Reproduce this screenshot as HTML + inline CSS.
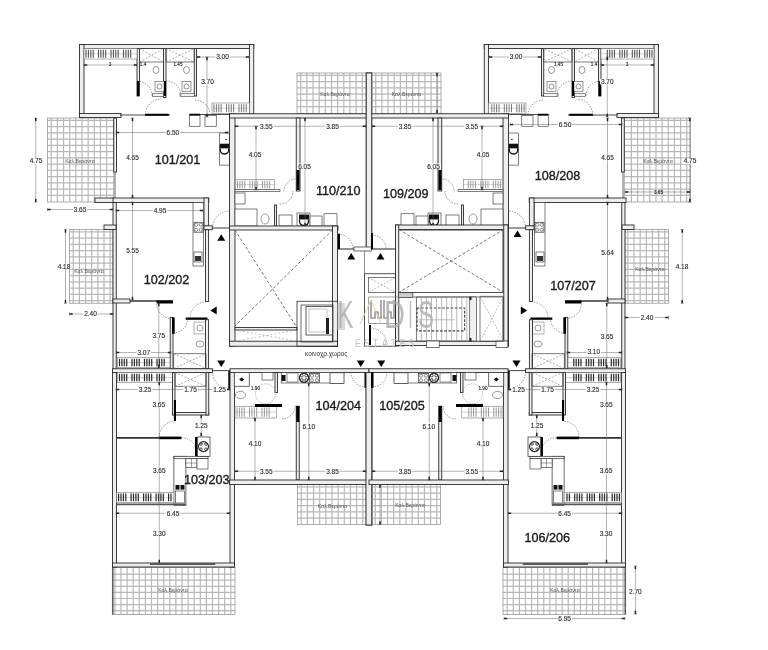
<!DOCTYPE html>
<html><head><meta charset="utf-8"><style>
html,body{margin:0;padding:0;background:#fff;width:768px;height:650px;overflow:hidden;}
svg{display:block;font-family:"Liberation Sans",sans-serif;will-change:transform;}
</style></head><body>
<svg width="768" height="650" viewBox="0 0 768 650">
<defs>
<pattern id="tile" width="6.2" height="6.2" patternUnits="userSpaceOnUse">
<rect x="0.9" y="0.9" width="4.6" height="4.6" fill="none" stroke="#b4b4b4" stroke-width="0.7"/>
</pattern>
<pattern id="hat" width="4" height="10" patternUnits="userSpaceOnUse">
<line x1="1.5" y1="0" x2="1.5" y2="10" stroke="#444" stroke-width="0.9"/>
</pattern>
</defs>
<rect width="768" height="650" fill="#fff"/>
<g id="half">
<path d="M51.25 118V202M57.4 118V202M63.55 118V202M69.7 118V202M75.85 118V202M82 118V202M88.15 118V202M94.3 118V202M100.45 118V202M106.6 118V202M47.5 120.3H113.75M47.5 126.55H113.75M47.5 132.8H113.75M47.5 139.05H113.75M47.5 145.3H113.75M47.5 151.55H113.75M47.5 157.8H113.75M47.5 164.05H113.75M47.5 170.3H113.75M47.5 176.55H113.75M47.5 182.8H113.75M47.5 189.05H113.75M47.5 195.3H113.75" stroke="#b8b8b8" stroke-width="1.2" fill="none"/>
<rect x="47.5" y="118" width="66.25" height="84" fill="none" stroke="#999" stroke-width="0.8"/>
<path d="M73.25 229.5V303.25M79.4 229.5V303.25M85.55 229.5V303.25M91.7 229.5V303.25M97.85 229.5V303.25M104 229.5V303.25M110.15 229.5V303.25M69.5 231.8H113M69.5 238.05H113M69.5 244.3H113M69.5 250.55H113M69.5 256.8H113M69.5 263.05H113M69.5 269.3H113M69.5 275.55H113M69.5 281.8H113M69.5 288.05H113M69.5 294.3H113M69.5 300.55H113" stroke="#b8b8b8" stroke-width="1.2" fill="none"/>
<rect x="69.5" y="229.5" width="43.5" height="73.75" fill="none" stroke="#999" stroke-width="0.8"/>
<path d="M114.9 567.6V614.5M121 567.6V614.5M127.1 567.6V614.5M133.2 567.6V614.5M139.3 567.6V614.5M145.4 567.6V614.5M151.5 567.6V614.5M157.6 567.6V614.5M163.7 567.6V614.5M169.8 567.6V614.5M175.9 567.6V614.5M182 567.6V614.5M188.1 567.6V614.5M194.2 567.6V614.5M200.3 567.6V614.5M206.4 567.6V614.5M212.5 567.6V614.5M218.6 567.6V614.5M224.7 567.6V614.5M230.8 567.6V614.5M112.3 574.1H235M112.3 580.2H235M112.3 586.3H235M112.3 592.4H235M112.3 598.5H235M112.3 604.6H235M112.3 610.7H235" stroke="#b8b8b8" stroke-width="1.2" fill="none"/>
<rect x="112.3" y="567.6" width="122.7" height="46.9" fill="none" stroke="#999" stroke-width="0.8"/>
<line x1="112.8" y1="567.6" x2="112.8" y2="614.5" stroke="#555" stroke-width="1.4"/>
<path d="M300.75 73V113.75M306.9 73V113.75M313.05 73V113.75M319.2 73V113.75M325.35 73V113.75M331.5 73V113.75M337.65 73V113.75M343.8 73V113.75M349.95 73V113.75M356.1 73V113.75M362.25 73V113.75M297 75.3H367.5M297 81.55H367.5M297 87.8H367.5M297 94.05H367.5M297 100.3H367.5M297 106.55H367.5" stroke="#b8b8b8" stroke-width="1.2" fill="none"/>
<rect x="297" y="73" width="70.5" height="40.75" fill="none" stroke="#999" stroke-width="0.8"/>
<path d="M301.25 484.5V524.5M307.4 484.5V524.5M313.55 484.5V524.5M319.7 484.5V524.5M325.85 484.5V524.5M332 484.5V524.5M338.15 484.5V524.5M344.3 484.5V524.5M350.45 484.5V524.5M356.6 484.5V524.5M362.75 484.5V524.5M297.5 486.8H367M297.5 493.05H367M297.5 499.3H367M297.5 505.55H367M297.5 511.8H367M297.5 518.05H367" stroke="#b8b8b8" stroke-width="1.2" fill="none"/>
<rect x="297.5" y="484.5" width="69.5" height="40" fill="none" stroke="#999" stroke-width="0.8"/>
<rect x="79.5" y="44.5" width="174.25" height="4" fill="#eeeeee" stroke="#2a2a2a" stroke-width="0.9"/>
<rect x="79.5" y="44.5" width="4.5" height="73" fill="#eeeeee" stroke="#2a2a2a" stroke-width="0.9"/>
<rect x="249.5" y="44.5" width="4.25" height="69.5" fill="#eeeeee" stroke="#2a2a2a" stroke-width="0.9"/>
<rect x="79.5" y="113.5" width="41.5" height="4" fill="#eeeeee" stroke="#2a2a2a" stroke-width="0.9"/>
<rect x="137" y="48.5" width="2.5" height="47.5" fill="#eeeeee" stroke="#2a2a2a" stroke-width="0.9"/>
<rect x="163.5" y="48.5" width="2.5" height="49" fill="#eeeeee" stroke="#2a2a2a" stroke-width="0.9"/>
<rect x="194.25" y="48.5" width="2.25" height="47.5" fill="#eeeeee" stroke="#2a2a2a" stroke-width="0.9"/>
<rect x="139.5" y="48.5" width="24" height="13.5" fill="none" stroke="#444" stroke-width="0.7"/>
<line x1="139.5" y1="48.5" x2="163.5" y2="62" stroke="#777" stroke-width="0.6" stroke-dasharray="2,1.5"/>
<line x1="139.5" y1="62" x2="163.5" y2="48.5" stroke="#777" stroke-width="0.6" stroke-dasharray="2,1.5"/>
<rect x="166" y="48.5" width="28.25" height="13.5" fill="none" stroke="#444" stroke-width="0.7"/>
<line x1="166" y1="48.5" x2="194.25" y2="62" stroke="#777" stroke-width="0.6" stroke-dasharray="2,1.5"/>
<line x1="166" y1="62" x2="194.25" y2="48.5" stroke="#777" stroke-width="0.6" stroke-dasharray="2,1.5"/>
<rect x="84" y="48.5" width="53" height="10.5" fill="#fff" stroke="#777" stroke-width="0.6"/>
<line x1="84" y1="53.75" x2="137" y2="53.75" stroke="#aaa" stroke-width="0.5"/>
<path d="M86 49.7V57.8M88.4 49.7V57.8M90.8 49.7V57.8M93.2 49.7V57.8M98.5 49.7V57.8M100.9 49.7V57.8M103.3 49.7V57.8M105.7 49.7V57.8M111 49.7V57.8M113.4 49.7V57.8M115.8 49.7V57.8M118.2 49.7V57.8M123.5 49.7V57.8M125.9 49.7V57.8M128.3 49.7V57.8M130.7 49.7V57.8" stroke="#555" stroke-width="1.1" fill="none"/>
<rect x="212" y="103" width="37.5" height="10.5" fill="#fff" stroke="#777" stroke-width="0.6"/>
<line x1="212" y1="108.25" x2="249.5" y2="108.25" stroke="#aaa" stroke-width="0.5"/>
<path d="M214 104.2V112.3M216.4 104.2V112.3M218.8 104.2V112.3M221.2 104.2V112.3M226.5 104.2V112.3M228.9 104.2V112.3M231.3 104.2V112.3M233.7 104.2V112.3M239 104.2V112.3M241.4 104.2V112.3M243.8 104.2V112.3M246.2 104.2V112.3" stroke="#777" stroke-width="1.0" fill="none"/>
<ellipse cx="156" cy="70" rx="3" ry="3.5" fill="none" stroke="#555" stroke-width="0.6"/>
<ellipse cx="186.5" cy="70" rx="3" ry="3.5" fill="none" stroke="#555" stroke-width="0.6"/>
<rect x="155" y="81.5" width="9" height="10" fill="#fff" stroke="#555" stroke-width="0.6"/>
<circle cx="159.5" cy="86.5" r="2.5" fill="none" stroke="#444" stroke-width="0.6"/>
<rect x="182" y="81.5" width="9" height="10" fill="#fff" stroke="#555" stroke-width="0.6"/>
<circle cx="186.5" cy="86.5" r="2.5" fill="none" stroke="#444" stroke-width="0.6"/>
<rect x="152.5" y="93.75" width="11" height="2.5" fill="#fff" stroke="#2a2a2a" stroke-width="0.6"/>
<rect x="180" y="93.75" width="14.25" height="2.5" fill="#fff" stroke="#2a2a2a" stroke-width="0.6"/>
<rect x="137" y="81" width="2" height="15" fill="#000"/>
<rect x="164" y="81" width="2" height="15" fill="#000"/>
<path d="M137 81 A15 15 0 0 1 152 96" fill="none" stroke="#555" stroke-width="0.6" stroke-dasharray="1.5,1.2"/>
<path d="M166 81 A15 15 0 0 1 181 96" fill="none" stroke="#555" stroke-width="0.6" stroke-dasharray="1.5,1.2"/>
<line x1="120" y1="115" x2="170" y2="115" stroke="#333" stroke-width="0.9"/>
<rect x="145" y="113.75" width="23.75" height="2" fill="#000"/>
<path d="M145.25 115 A16 16 0 0 1 161.25 99" fill="none" stroke="#555" stroke-width="0.6" stroke-dasharray="1.5,1.2"/>
<line x1="188.75" y1="114.5" x2="232.5" y2="114.5" stroke="#333" stroke-width="0.9"/>
<rect x="190" y="113.75" width="10" height="2" fill="#000"/>
<path d="M195 100 A15 15 0 0 1 210 115" fill="none" stroke="#555" stroke-width="0.6" stroke-dasharray="1.5,1.2"/>
<rect x="189.5" y="115.5" width="10.5" height="10.75" fill="#fff" stroke="#2a2a2a" stroke-width="0.6"/>
<rect x="205" y="115.5" width="11.25" height="10.75" fill="#fff" stroke="#2a2a2a" stroke-width="0.6"/>
<rect x="219.5" y="133" width="9.8" height="32.1" fill="#fff" stroke="#2a2a2a" stroke-width="0.6"/>
<circle cx="226.1" cy="139.5" r="0.8" fill="#333"/>
<rect x="219.8" y="143.7" width="9.4" height="4.64" fill="#111"/>
<path d="M220.3 148.33Q219.8 154 224.5 154Q229.2 154 228.7 148.33" fill="none" stroke="#111" stroke-width="1.3"/>
<rect x="113.75" y="118" width="2.75" height="54" fill="#eeeeee" stroke="#2a2a2a" stroke-width="0.9"/>
<line x1="115" y1="172" x2="115" y2="198" stroke="#444" stroke-width="0.8"/>
<rect x="112" y="198" width="96.75" height="4.5" fill="#eeeeee" stroke="#2a2a2a" stroke-width="0.9"/>
<rect x="204" y="198" width="4.6" height="28" fill="#eeeeee" stroke="#2a2a2a" stroke-width="0.9"/>
<rect x="204" y="225.8" width="8.3" height="3.9" fill="#eeeeee" stroke="#2a2a2a" stroke-width="0.9"/>
<rect x="229" y="211.4" width="2" height="18.2" fill="#000"/>
<path d="M212.5 228 A17 17 0 0 1 229.5 211" fill="none" stroke="#555" stroke-width="0.6" stroke-dasharray="1.5,1.2"/>
<line x1="212.3" y1="228" x2="229" y2="228" stroke="#222" stroke-width="0.9"/>
<rect x="229.5" y="113.75" width="5.5" height="232.5" fill="#eeeeee" stroke="#2a2a2a" stroke-width="0.9"/>
<rect x="113" y="202.5" width="3.25" height="167.5" fill="#eeeeee" stroke="#2a2a2a" stroke-width="0.9"/>
<rect x="104" y="225" width="12" height="4.5" fill="#eeeeee" stroke="#2a2a2a" stroke-width="0.9"/>
<rect x="193" y="202.5" width="10.4" height="63.5" fill="#fff" stroke="#2a2a2a" stroke-width="0.6"/>
<rect x="194" y="222.3" width="9" height="9.9" fill="#fff" stroke="#333" stroke-width="0.7"/>
<circle cx="196.25" cy="224.78" r="1.57" fill="none" stroke="#444" stroke-width="0.6"/>
<circle cx="196.25" cy="229.72" r="1.57" fill="none" stroke="#444" stroke-width="0.6"/>
<circle cx="200.75" cy="224.78" r="1.57" fill="none" stroke="#444" stroke-width="0.6"/>
<circle cx="200.75" cy="229.72" r="1.57" fill="none" stroke="#444" stroke-width="0.6"/>
<rect x="194" y="252" width="8" height="10" fill="#fff" stroke="#2a2a2a" stroke-width="0.6"/>
<rect x="195" y="256" width="6" height="5" fill="#333"/>
<rect x="113" y="299" width="17" height="4" fill="#eeeeee" stroke="#2a2a2a" stroke-width="0.9"/>
<line x1="130" y1="301" x2="173" y2="301" stroke="#333" stroke-width="1.4"/>
<rect x="156.5" y="300.5" width="16.5" height="3" fill="#000"/>
<path d="M172 318.5 A15.5 15.5 0 0 1 156.5 303" fill="none" stroke="#555" stroke-width="0.6" stroke-dasharray="1.5,1.2"/>
<rect x="185.7" y="317.5" width="21.8" height="2.3" fill="#000"/>
<path d="M187.7 318 A15 15 0 0 1 172.7 333" fill="none" stroke="#555" stroke-width="0.6" stroke-dasharray="1.5,1.2"/>
<circle cx="200" cy="328" r="3" fill="none" stroke="#555" stroke-width="0.6"/>
<rect x="194" y="322" width="12" height="12" fill="none" stroke="#666" stroke-width="0.5"/>
<ellipse cx="200" cy="344" rx="4" ry="3" fill="none" stroke="#555" stroke-width="0.6"/>
<rect x="205.5" y="229.7" width="3.1" height="71.8" fill="#eeeeee" stroke="#2a2a2a" stroke-width="0.9"/>
<rect x="205.5" y="319.7" width="3.1" height="49.05" fill="#eeeeee" stroke="#2a2a2a" stroke-width="0.9"/>
<path d="M190 318 A16 16 0 0 1 206 302" fill="none" stroke="#555" stroke-width="0.6" stroke-dasharray="1.5,1.2"/>
<rect x="170.2" y="317.4" width="2.8" height="51.6" fill="#eeeeee" stroke="#2a2a2a" stroke-width="0.9"/>
<rect x="173.75" y="353.75" width="32.25" height="14.75" fill="none" stroke="#444" stroke-width="0.7"/>
<line x1="173.75" y1="353.75" x2="206" y2="368.5" stroke="#777" stroke-width="0.6" stroke-dasharray="2,1.5"/>
<line x1="173.75" y1="368.5" x2="206" y2="353.75" stroke="#777" stroke-width="0.6" stroke-dasharray="2,1.5"/>
<rect x="172" y="317.4" width="2.7" height="16.4" fill="#000"/>
<rect x="117.5" y="357.5" width="52.5" height="10" fill="#fff" stroke="#777" stroke-width="0.6"/>
<line x1="117.5" y1="362.5" x2="170" y2="362.5" stroke="#aaa" stroke-width="0.5"/>
<path d="M119.5 358.7V366.3M121.9 358.7V366.3M124.3 358.7V366.3M126.7 358.7V366.3M132 358.7V366.3M134.4 358.7V366.3M136.8 358.7V366.3M139.2 358.7V366.3M144.5 358.7V366.3M146.9 358.7V366.3M149.3 358.7V366.3M151.7 358.7V366.3M157 358.7V366.3M159.4 358.7V366.3M161.8 358.7V366.3M164.2 358.7V366.3" stroke="#2a2a2a" stroke-width="1.2" fill="none"/>
<rect x="112.5" y="368.75" width="100" height="3.75" fill="#eeeeee" stroke="#2a2a2a" stroke-width="0.9"/>
<line x1="212.5" y1="370.6" x2="230" y2="370.6" stroke="#333" stroke-width="0.9"/>
<rect x="228.3" y="371" width="1.9" height="18.4" fill="#000"/>
<path d="M229 388.5 A16.5 16.5 0 0 1 212.5 372" fill="none" stroke="#555" stroke-width="0.6" stroke-dasharray="1.5,1.2"/>
<rect x="117.5" y="372.5" width="55" height="10" fill="#fff" stroke="#777" stroke-width="0.6"/>
<line x1="117.5" y1="377.5" x2="172.5" y2="377.5" stroke="#aaa" stroke-width="0.5"/>
<path d="M119.5 373.7V381.3M121.9 373.7V381.3M124.3 373.7V381.3M126.7 373.7V381.3M132 373.7V381.3M134.4 373.7V381.3M136.8 373.7V381.3M139.2 373.7V381.3M144.5 373.7V381.3M146.9 373.7V381.3M149.3 373.7V381.3M151.7 373.7V381.3M157 373.7V381.3M159.4 373.7V381.3M161.8 373.7V381.3M164.2 373.7V381.3" stroke="#2a2a2a" stroke-width="1.2" fill="none"/>
<rect x="172.5" y="372.5" width="2.5" height="42.5" fill="#eeeeee" stroke="#2a2a2a" stroke-width="0.9"/>
<rect x="175" y="412.5" width="33.75" height="2.5" fill="#eeeeee" stroke="#2a2a2a" stroke-width="0.9"/>
<rect x="206" y="372.5" width="2.75" height="42.5" fill="#eeeeee" stroke="#2a2a2a" stroke-width="0.9"/>
<rect x="175" y="372.5" width="31" height="13.75" fill="none" stroke="#444" stroke-width="0.7"/>
<line x1="175" y1="372.5" x2="206" y2="386.25" stroke="#777" stroke-width="0.6" stroke-dasharray="2,1.5"/>
<line x1="175" y1="386.25" x2="206" y2="372.5" stroke="#777" stroke-width="0.6" stroke-dasharray="2,1.5"/>
<rect x="112.5" y="372.5" width="4" height="194.5" fill="#eeeeee" stroke="#2a2a2a" stroke-width="0.9"/>
<line x1="116.6" y1="437.9" x2="181.3" y2="437.9" stroke="#333" stroke-width="1.6"/>
<rect x="159" y="436.6" width="22.3" height="2.6" fill="#000"/>
<path d="M159.1 437 A15.7 15.7 0 0 1 174.8 421.3" fill="none" stroke="#555" stroke-width="0.6" stroke-dasharray="1.5,1.2"/>
<rect x="173.9" y="400" width="2.1" height="21" fill="#000"/>
<path d="M181.3 437.6 A16 16 0 0 1 197.3 453.6" fill="none" stroke="#555" stroke-width="0.6" stroke-dasharray="1.5,1.2"/>
<rect x="173.9" y="456.3" width="12" height="49" fill="#fff" stroke="#2a2a2a" stroke-width="0.7"/>
<rect x="173.9" y="456.3" width="34.1" height="2.4" fill="#fff" stroke="#2a2a2a" stroke-width="0.7"/>
<rect x="185.9" y="458.7" width="11.1" height="8.7" fill="#fff" stroke="#2a2a2a" stroke-width="0.6"/>
<path d="M186 463H197M191.5 459V467.4" stroke="#666" stroke-width="0.6"/>
<rect x="197" y="458.7" width="11" height="10.3" fill="#fff" stroke="#2a2a2a" stroke-width="0.6"/>
<rect x="175.5" y="485" width="4" height="4.6" fill="#111"/>
<rect x="180.5" y="485" width="4" height="4.6" fill="#111"/>
<rect x="175.5" y="491" width="9" height="12" fill="#fff" stroke="#2a2a2a" stroke-width="0.6"/>
<rect x="197" y="437" width="13" height="19.3" fill="#fff" stroke="#2a2a2a" stroke-width="0.7"/>
<rect x="195" y="437" width="2.5" height="19" fill="#000"/>
<circle cx="203.5" cy="446.6" r="5" fill="none" stroke="#222" stroke-width="1.1"/>
<circle cx="201" cy="444" r="1.3" fill="none" stroke="#222" stroke-width="0.8"/>
<circle cx="206" cy="444" r="1.3" fill="none" stroke="#222" stroke-width="0.8"/>
<circle cx="201" cy="449.2" r="1.3" fill="none" stroke="#222" stroke-width="0.8"/>
<circle cx="206" cy="449.2" r="1.3" fill="none" stroke="#222" stroke-width="0.8"/>
<rect x="116.6" y="492.4" width="57.3" height="10.1" fill="#fff" stroke="#777" stroke-width="0.6"/>
<line x1="116.6" y1="497.45" x2="173.9" y2="497.45" stroke="#aaa" stroke-width="0.5"/>
<path d="M118.6 493.6V501.3M121 493.6V501.3M123.4 493.6V501.3M125.8 493.6V501.3M131.1 493.6V501.3M133.5 493.6V501.3M135.9 493.6V501.3M138.3 493.6V501.3M143.6 493.6V501.3M146 493.6V501.3M148.4 493.6V501.3M150.8 493.6V501.3M156.1 493.6V501.3M158.5 493.6V501.3M160.9 493.6V501.3M163.3 493.6V501.3M168.6 493.6V501.3M171 493.6V501.3" stroke="#2a2a2a" stroke-width="1.2" fill="none"/>
<line x1="116.6" y1="504.4" x2="185.9" y2="504.4" stroke="#555" stroke-width="1.6"/>
<rect x="230" y="370" width="4.5" height="197" fill="#eeeeee" stroke="#2a2a2a" stroke-width="0.9"/>
<rect x="112.5" y="563" width="122" height="4" fill="#eeeeee" stroke="#2a2a2a" stroke-width="0.9"/>
<line x1="150" y1="564.2" x2="215.2" y2="564.2" stroke="#222" stroke-width="1.2"/>
<rect x="229.5" y="113.75" width="139.5" height="4.25" fill="#eeeeee" stroke="#2a2a2a" stroke-width="0.9"/>
<rect x="366.25" y="73" width="5.5" height="176" fill="#eeeeee" stroke="#2a2a2a" stroke-width="0.9"/>
<rect x="296.25" y="118" width="3.75" height="73" fill="#eeeeee" stroke="#2a2a2a" stroke-width="0.9"/>
<rect x="296.5" y="170" width="3" height="20" fill="#000"/>
<rect x="235.5" y="179.5" width="39" height="10" fill="#fff" stroke="#777" stroke-width="0.6"/>
<line x1="235.5" y1="184.5" x2="274.5" y2="184.5" stroke="#aaa" stroke-width="0.5"/>
<path d="M237.5 180.7V188.3M239.9 180.7V188.3M242.3 180.7V188.3M244.7 180.7V188.3M250 180.7V188.3M252.4 180.7V188.3M254.8 180.7V188.3M257.2 180.7V188.3M262.5 180.7V188.3M264.9 180.7V188.3M267.3 180.7V188.3M269.7 180.7V188.3" stroke="#999" stroke-width="1.0" fill="none"/>
<rect x="235" y="189.5" width="45" height="2" fill="#fff" stroke="#2a2a2a" stroke-width="0.6"/>
<path d="M293 191 A13 13 0 0 1 280 204" fill="none" stroke="#555" stroke-width="0.6" stroke-dasharray="1.5,1.2"/>
<path d="M284 191 A12 12 0 0 1 296 179" fill="none" stroke="#555" stroke-width="0.6" stroke-dasharray="1.5,1.2"/>
<rect x="235" y="193" width="10" height="11" fill="#fff" stroke="#2a2a2a" stroke-width="0.6"/>
<rect x="235" y="209" width="22" height="17" fill="#fff" stroke="#2a2a2a" stroke-width="0.6"/>
<rect x="274.5" y="205" width="2" height="21" fill="#eeeeee" stroke="#2a2a2a" stroke-width="0.9"/>
<rect x="279" y="215" width="13" height="11" fill="#fff" stroke="#2a2a2a" stroke-width="0.6"/>
<rect x="297" y="213" width="13" height="13" fill="#fff" stroke="#2a2a2a" stroke-width="0.6"/>
<rect x="299" y="214.5" width="10" height="4.95" fill="#111"/>
<path d="M299.5 219.45Q299 225.5 304 225.5Q309 225.5 308.5 219.45" fill="none" stroke="#111" stroke-width="1.3"/>
<rect x="310" y="216" width="12" height="10" fill="#fff" stroke="#2a2a2a" stroke-width="0.6"/>
<rect x="324" y="213.75" width="13" height="12.25" fill="#fff" stroke="#2a2a2a" stroke-width="0.6"/>
<ellipse cx="265" cy="219" rx="4" ry="5" fill="none" stroke="#555" stroke-width="0.6"/>
<rect x="229.5" y="226" width="108.5" height="4" fill="#eeeeee" stroke="#2a2a2a" stroke-width="0.9"/>
<rect x="230" y="368.75" width="139" height="3.75" fill="#eeeeee" stroke="#2a2a2a" stroke-width="0.9"/>
<rect x="366.25" y="372.5" width="5.75" height="152.5" fill="#eeeeee" stroke="#2a2a2a" stroke-width="0.9"/>
<rect x="275" y="372.5" width="2.5" height="20" fill="#eeeeee" stroke="#2a2a2a" stroke-width="0.9"/>
<rect x="234.25" y="372.5" width="15" height="13.75" fill="#fff" stroke="#2a2a2a" stroke-width="0.7"/>
<path d="M241.7 377.3L244.2 379.4L241.7 381.5L239.2 379.4Z" fill="#111"/>
<ellipse cx="240.5" cy="395" rx="5" ry="3.6" fill="none" stroke="#555" stroke-width="0.6"/>
<rect x="262" y="372.5" width="11" height="7.5" fill="#fff" stroke="#2a2a2a" stroke-width="0.6"/>
<rect x="235" y="406.25" width="41.25" height="11.75" fill="#fff" stroke="#777" stroke-width="0.6"/>
<line x1="235" y1="412.12" x2="276.25" y2="412.12" stroke="#aaa" stroke-width="0.5"/>
<path d="M237 407.45V416.8M239.4 407.45V416.8M241.8 407.45V416.8M244.2 407.45V416.8M249.5 407.45V416.8M251.9 407.45V416.8M254.3 407.45V416.8M256.7 407.45V416.8M262 407.45V416.8M264.4 407.45V416.8M266.8 407.45V416.8M269.2 407.45V416.8" stroke="#999" stroke-width="1.0" fill="none"/>
<rect x="255" y="404" width="27" height="3" fill="#000"/>
<rect x="296.25" y="406.25" width="3" height="73.75" fill="#eeeeee" stroke="#2a2a2a" stroke-width="0.9"/>
<rect x="296.25" y="406" width="3" height="16" fill="#000"/>
<rect x="281.25" y="372.5" width="62.5" height="10.5" fill="#fff" stroke="#2a2a2a" stroke-width="0.6"/>
<rect x="281.5" y="375" width="4" height="6" fill="#111"/>
<rect x="287" y="373" width="11" height="9" fill="#fff" stroke="#2a2a2a" stroke-width="0.5"/>
<circle cx="304" cy="377.8" r="4.6" fill="none" stroke="#1a1a1a" stroke-width="1.2"/>
<circle cx="301.79" cy="375.59" r="1.38" fill="none" stroke="#1a1a1a" stroke-width="0.8"/>
<circle cx="306.21" cy="375.59" r="1.38" fill="none" stroke="#1a1a1a" stroke-width="0.8"/>
<circle cx="301.79" cy="380.01" r="1.38" fill="none" stroke="#1a1a1a" stroke-width="0.8"/>
<circle cx="306.21" cy="380.01" r="1.38" fill="none" stroke="#1a1a1a" stroke-width="0.8"/>
<rect x="309.5" y="373.5" width="10" height="9" fill="#fff" stroke="#333" stroke-width="0.7"/>
<circle cx="312" cy="375.75" r="1.57" fill="none" stroke="#444" stroke-width="0.6"/>
<circle cx="312" cy="380.25" r="1.57" fill="none" stroke="#444" stroke-width="0.6"/>
<circle cx="317" cy="375.75" r="1.57" fill="none" stroke="#444" stroke-width="0.6"/>
<circle cx="317" cy="380.25" r="1.57" fill="none" stroke="#444" stroke-width="0.6"/>
<rect x="330" y="372.8" width="14" height="10.7" fill="#fff" stroke="#2a2a2a" stroke-width="0.7"/>
<rect x="364.5" y="372.5" width="2.5" height="15.5" fill="#000"/>
<path d="M295 406 A13 13 0 0 1 282 419" fill="none" stroke="#555" stroke-width="0.6" stroke-dasharray="1.5,1.2"/>
<rect x="229.5" y="480" width="139.5" height="4.5" fill="#eeeeee" stroke="#2a2a2a" stroke-width="0.9"/>
<circle cx="265.5" cy="393.75" r="10" fill="none" stroke="#777" stroke-width="0.5" stroke-dasharray="1.5,1"/>
<path d="M366 387 A15 15 0 0 1 351 372" fill="none" stroke="#555" stroke-width="0.6" stroke-dasharray="1.5,1.2"/>
</g>
<use href="#half" transform="translate(738,0) scale(-1,1)"/>
<line x1="84" y1="65" x2="137" y2="65" stroke="#666" stroke-width="0.5"/>
<line x1="84" y1="65" x2="87.2" y2="65" stroke="#222" stroke-width="1.5"/>
<line x1="133.8" y1="65" x2="137" y2="65" stroke="#222" stroke-width="1.5"/>
<line x1="84" y1="63.4" x2="84" y2="66.6" stroke="#555" stroke-width="0.5"/>
<line x1="137" y1="63.4" x2="137" y2="66.6" stroke="#555" stroke-width="0.5"/>
<line x1="654" y1="65" x2="601" y2="65" stroke="#666" stroke-width="0.5"/>
<line x1="601" y1="65" x2="604.2" y2="65" stroke="#222" stroke-width="1.5"/>
<line x1="650.8" y1="65" x2="654" y2="65" stroke="#222" stroke-width="1.5"/>
<line x1="601" y1="63.4" x2="601" y2="66.6" stroke="#555" stroke-width="0.5"/>
<line x1="654" y1="63.4" x2="654" y2="66.6" stroke="#555" stroke-width="0.5"/>
<line x1="197" y1="57" x2="249" y2="57" stroke="#666" stroke-width="0.5"/>
<line x1="197" y1="57" x2="200.2" y2="57" stroke="#222" stroke-width="1.5"/>
<line x1="245.8" y1="57" x2="249" y2="57" stroke="#222" stroke-width="1.5"/>
<line x1="197" y1="55.4" x2="197" y2="58.6" stroke="#555" stroke-width="0.5"/>
<line x1="249" y1="55.4" x2="249" y2="58.6" stroke="#555" stroke-width="0.5"/>
<line x1="541" y1="57" x2="489" y2="57" stroke="#666" stroke-width="0.5"/>
<line x1="489" y1="57" x2="492.2" y2="57" stroke="#222" stroke-width="1.5"/>
<line x1="537.8" y1="57" x2="541" y2="57" stroke="#222" stroke-width="1.5"/>
<line x1="489" y1="55.4" x2="489" y2="58.6" stroke="#555" stroke-width="0.5"/>
<line x1="541" y1="55.4" x2="541" y2="58.6" stroke="#555" stroke-width="0.5"/>
<line x1="207" y1="57" x2="207" y2="117" stroke="#666" stroke-width="0.5"/>
<line x1="207" y1="57" x2="207" y2="60.2" stroke="#222" stroke-width="1.5"/>
<line x1="207" y1="113.8" x2="207" y2="117" stroke="#222" stroke-width="1.5"/>
<line x1="205.4" y1="57" x2="208.6" y2="57" stroke="#555" stroke-width="0.5"/>
<line x1="205.4" y1="117" x2="208.6" y2="117" stroke="#555" stroke-width="0.5"/>
<line x1="607.25" y1="57" x2="607.25" y2="117" stroke="#666" stroke-width="0.5"/>
<line x1="607.25" y1="57" x2="607.25" y2="60.2" stroke="#222" stroke-width="1.5"/>
<line x1="607.25" y1="113.8" x2="607.25" y2="117" stroke="#222" stroke-width="1.5"/>
<line x1="605.65" y1="57" x2="608.85" y2="57" stroke="#555" stroke-width="0.5"/>
<line x1="605.65" y1="117" x2="608.85" y2="117" stroke="#555" stroke-width="0.5"/>
<line x1="116" y1="132.5" x2="228" y2="132.5" stroke="#666" stroke-width="0.5"/>
<line x1="116" y1="132.5" x2="119.2" y2="132.5" stroke="#222" stroke-width="1.5"/>
<line x1="224.8" y1="132.5" x2="228" y2="132.5" stroke="#222" stroke-width="1.5"/>
<line x1="116" y1="130.9" x2="116" y2="134.1" stroke="#555" stroke-width="0.5"/>
<line x1="228" y1="130.9" x2="228" y2="134.1" stroke="#555" stroke-width="0.5"/>
<line x1="510" y1="124.5" x2="622" y2="124.5" stroke="#666" stroke-width="0.5"/>
<line x1="510" y1="124.5" x2="513.2" y2="124.5" stroke="#222" stroke-width="1.5"/>
<line x1="618.8" y1="124.5" x2="622" y2="124.5" stroke="#222" stroke-width="1.5"/>
<line x1="510" y1="122.9" x2="510" y2="126.1" stroke="#555" stroke-width="0.5"/>
<line x1="622" y1="122.9" x2="622" y2="126.1" stroke="#555" stroke-width="0.5"/>
<line x1="132.5" y1="118" x2="132.5" y2="198" stroke="#666" stroke-width="0.5"/>
<line x1="132.5" y1="118" x2="132.5" y2="121.2" stroke="#222" stroke-width="1.5"/>
<line x1="132.5" y1="194.8" x2="132.5" y2="198" stroke="#222" stroke-width="1.5"/>
<line x1="130.9" y1="118" x2="134.1" y2="118" stroke="#555" stroke-width="0.5"/>
<line x1="130.9" y1="198" x2="134.1" y2="198" stroke="#555" stroke-width="0.5"/>
<line x1="607.5" y1="118" x2="607.5" y2="198" stroke="#666" stroke-width="0.5"/>
<line x1="607.5" y1="118" x2="607.5" y2="121.2" stroke="#222" stroke-width="1.5"/>
<line x1="607.5" y1="194.8" x2="607.5" y2="198" stroke="#222" stroke-width="1.5"/>
<line x1="605.9" y1="118" x2="609.1" y2="118" stroke="#555" stroke-width="0.5"/>
<line x1="605.9" y1="198" x2="609.1" y2="198" stroke="#555" stroke-width="0.5"/>
<line x1="35.75" y1="118" x2="35.75" y2="202" stroke="#666" stroke-width="0.5"/>
<line x1="35.75" y1="118" x2="35.75" y2="121.2" stroke="#222" stroke-width="1.5"/>
<line x1="35.75" y1="198.8" x2="35.75" y2="202" stroke="#222" stroke-width="1.5"/>
<line x1="34.15" y1="118" x2="37.35" y2="118" stroke="#555" stroke-width="0.5"/>
<line x1="34.15" y1="202" x2="37.35" y2="202" stroke="#555" stroke-width="0.5"/>
<line x1="689.75" y1="118" x2="689.75" y2="202" stroke="#666" stroke-width="0.5"/>
<line x1="689.75" y1="118" x2="689.75" y2="121.2" stroke="#222" stroke-width="1.5"/>
<line x1="689.75" y1="198.8" x2="689.75" y2="202" stroke="#222" stroke-width="1.5"/>
<line x1="688.15" y1="118" x2="691.35" y2="118" stroke="#555" stroke-width="0.5"/>
<line x1="688.15" y1="202" x2="691.35" y2="202" stroke="#555" stroke-width="0.5"/>
<line x1="47.5" y1="209.5" x2="113" y2="209.5" stroke="#666" stroke-width="0.5"/>
<line x1="47.5" y1="209.5" x2="50.7" y2="209.5" stroke="#222" stroke-width="1.5"/>
<line x1="109.8" y1="209.5" x2="113" y2="209.5" stroke="#222" stroke-width="1.5"/>
<line x1="47.5" y1="207.9" x2="47.5" y2="211.1" stroke="#555" stroke-width="0.5"/>
<line x1="113" y1="207.9" x2="113" y2="211.1" stroke="#555" stroke-width="0.5"/>
<line x1="625" y1="192" x2="690" y2="192" stroke="#666" stroke-width="0.5"/>
<line x1="625" y1="192" x2="628.2" y2="192" stroke="#222" stroke-width="1.5"/>
<line x1="686.8" y1="192" x2="690" y2="192" stroke="#222" stroke-width="1.5"/>
<line x1="625" y1="190.4" x2="625" y2="193.6" stroke="#555" stroke-width="0.5"/>
<line x1="690" y1="190.4" x2="690" y2="193.6" stroke="#555" stroke-width="0.5"/>
<line x1="116" y1="210.5" x2="203" y2="210.5" stroke="#666" stroke-width="0.5"/>
<line x1="116" y1="210.5" x2="119.2" y2="210.5" stroke="#222" stroke-width="1.5"/>
<line x1="199.8" y1="210.5" x2="203" y2="210.5" stroke="#222" stroke-width="1.5"/>
<line x1="116" y1="208.9" x2="116" y2="212.1" stroke="#555" stroke-width="0.5"/>
<line x1="203" y1="208.9" x2="203" y2="212.1" stroke="#555" stroke-width="0.5"/>
<line x1="132.5" y1="202" x2="132.5" y2="300" stroke="#666" stroke-width="0.5"/>
<line x1="132.5" y1="202" x2="132.5" y2="205.2" stroke="#222" stroke-width="1.5"/>
<line x1="132.5" y1="296.8" x2="132.5" y2="300" stroke="#222" stroke-width="1.5"/>
<line x1="130.9" y1="202" x2="134.1" y2="202" stroke="#555" stroke-width="0.5"/>
<line x1="130.9" y1="300" x2="134.1" y2="300" stroke="#555" stroke-width="0.5"/>
<line x1="607.5" y1="202" x2="607.5" y2="300" stroke="#666" stroke-width="0.5"/>
<line x1="607.5" y1="202" x2="607.5" y2="205.2" stroke="#222" stroke-width="1.5"/>
<line x1="607.5" y1="296.8" x2="607.5" y2="300" stroke="#222" stroke-width="1.5"/>
<line x1="605.9" y1="202" x2="609.1" y2="202" stroke="#555" stroke-width="0.5"/>
<line x1="605.9" y1="300" x2="609.1" y2="300" stroke="#555" stroke-width="0.5"/>
<line x1="65.5" y1="229.5" x2="65.5" y2="303.25" stroke="#666" stroke-width="0.5"/>
<line x1="65.5" y1="229.5" x2="65.5" y2="232.7" stroke="#222" stroke-width="1.5"/>
<line x1="65.5" y1="300.05" x2="65.5" y2="303.25" stroke="#222" stroke-width="1.5"/>
<line x1="63.9" y1="229.5" x2="67.1" y2="229.5" stroke="#555" stroke-width="0.5"/>
<line x1="63.9" y1="303.25" x2="67.1" y2="303.25" stroke="#555" stroke-width="0.5"/>
<line x1="682.25" y1="229.5" x2="682.25" y2="303.25" stroke="#666" stroke-width="0.5"/>
<line x1="682.25" y1="229.5" x2="682.25" y2="232.7" stroke="#222" stroke-width="1.5"/>
<line x1="682.25" y1="300.05" x2="682.25" y2="303.25" stroke="#222" stroke-width="1.5"/>
<line x1="680.65" y1="229.5" x2="683.85" y2="229.5" stroke="#555" stroke-width="0.5"/>
<line x1="680.65" y1="303.25" x2="683.85" y2="303.25" stroke="#555" stroke-width="0.5"/>
<line x1="69.5" y1="314" x2="113" y2="314" stroke="#666" stroke-width="0.5"/>
<line x1="69.5" y1="314" x2="72.7" y2="314" stroke="#222" stroke-width="1.5"/>
<line x1="109.8" y1="314" x2="113" y2="314" stroke="#222" stroke-width="1.5"/>
<line x1="69.5" y1="312.4" x2="69.5" y2="315.6" stroke="#555" stroke-width="0.5"/>
<line x1="113" y1="312.4" x2="113" y2="315.6" stroke="#555" stroke-width="0.5"/>
<line x1="625" y1="317.5" x2="668.5" y2="317.5" stroke="#666" stroke-width="0.5"/>
<line x1="625" y1="317.5" x2="628.2" y2="317.5" stroke="#222" stroke-width="1.5"/>
<line x1="665.3" y1="317.5" x2="668.5" y2="317.5" stroke="#222" stroke-width="1.5"/>
<line x1="625" y1="315.9" x2="625" y2="319.1" stroke="#555" stroke-width="0.5"/>
<line x1="668.5" y1="315.9" x2="668.5" y2="319.1" stroke="#555" stroke-width="0.5"/>
<line x1="158.75" y1="303" x2="158.75" y2="368" stroke="#666" stroke-width="0.5"/>
<line x1="158.75" y1="303" x2="158.75" y2="306.2" stroke="#222" stroke-width="1.5"/>
<line x1="158.75" y1="364.8" x2="158.75" y2="368" stroke="#222" stroke-width="1.5"/>
<line x1="157.15" y1="303" x2="160.35" y2="303" stroke="#555" stroke-width="0.5"/>
<line x1="157.15" y1="368" x2="160.35" y2="368" stroke="#555" stroke-width="0.5"/>
<line x1="606.75" y1="303" x2="606.75" y2="368" stroke="#666" stroke-width="0.5"/>
<line x1="606.75" y1="303" x2="606.75" y2="306.2" stroke="#222" stroke-width="1.5"/>
<line x1="606.75" y1="364.8" x2="606.75" y2="368" stroke="#222" stroke-width="1.5"/>
<line x1="605.15" y1="303" x2="608.35" y2="303" stroke="#555" stroke-width="0.5"/>
<line x1="605.15" y1="368" x2="608.35" y2="368" stroke="#555" stroke-width="0.5"/>
<line x1="116" y1="352.5" x2="171" y2="352.5" stroke="#666" stroke-width="0.5"/>
<line x1="116" y1="352.5" x2="119.2" y2="352.5" stroke="#222" stroke-width="1.5"/>
<line x1="167.8" y1="352.5" x2="171" y2="352.5" stroke="#222" stroke-width="1.5"/>
<line x1="116" y1="350.9" x2="116" y2="354.1" stroke="#555" stroke-width="0.5"/>
<line x1="171" y1="350.9" x2="171" y2="354.1" stroke="#555" stroke-width="0.5"/>
<line x1="622" y1="352.5" x2="567" y2="352.5" stroke="#666" stroke-width="0.5"/>
<line x1="567" y1="352.5" x2="570.2" y2="352.5" stroke="#222" stroke-width="1.5"/>
<line x1="618.8" y1="352.5" x2="622" y2="352.5" stroke="#222" stroke-width="1.5"/>
<line x1="567" y1="350.9" x2="567" y2="354.1" stroke="#555" stroke-width="0.5"/>
<line x1="622" y1="350.9" x2="622" y2="354.1" stroke="#555" stroke-width="0.5"/>
<line x1="159.25" y1="382" x2="159.25" y2="563" stroke="#666" stroke-width="0.5"/>
<line x1="159.25" y1="382" x2="159.25" y2="385.2" stroke="#222" stroke-width="1.5"/>
<line x1="159.25" y1="559.8" x2="159.25" y2="563" stroke="#222" stroke-width="1.5"/>
<line x1="157.65" y1="382" x2="160.85" y2="382" stroke="#555" stroke-width="0.5"/>
<line x1="157.65" y1="563" x2="160.85" y2="563" stroke="#555" stroke-width="0.5"/>
<line x1="606.5" y1="382" x2="606.5" y2="563" stroke="#666" stroke-width="0.5"/>
<line x1="606.5" y1="382" x2="606.5" y2="385.2" stroke="#222" stroke-width="1.5"/>
<line x1="606.5" y1="559.8" x2="606.5" y2="563" stroke="#222" stroke-width="1.5"/>
<line x1="604.9" y1="382" x2="608.1" y2="382" stroke="#555" stroke-width="0.5"/>
<line x1="604.9" y1="563" x2="608.1" y2="563" stroke="#555" stroke-width="0.5"/>
<line x1="116" y1="389.5" x2="230" y2="389.5" stroke="#666" stroke-width="0.5"/>
<line x1="116" y1="389.5" x2="119.2" y2="389.5" stroke="#222" stroke-width="1.5"/>
<line x1="226.8" y1="389.5" x2="230" y2="389.5" stroke="#222" stroke-width="1.5"/>
<line x1="116" y1="387.9" x2="116" y2="391.1" stroke="#555" stroke-width="0.5"/>
<line x1="230" y1="387.9" x2="230" y2="391.1" stroke="#555" stroke-width="0.5"/>
<line x1="622" y1="389.5" x2="508" y2="389.5" stroke="#666" stroke-width="0.5"/>
<line x1="508" y1="389.5" x2="511.2" y2="389.5" stroke="#222" stroke-width="1.5"/>
<line x1="618.8" y1="389.5" x2="622" y2="389.5" stroke="#222" stroke-width="1.5"/>
<line x1="508" y1="387.9" x2="508" y2="391.1" stroke="#555" stroke-width="0.5"/>
<line x1="622" y1="387.9" x2="622" y2="391.1" stroke="#555" stroke-width="0.5"/>
<line x1="201.25" y1="415" x2="201.25" y2="436" stroke="#666" stroke-width="0.5"/>
<line x1="201.25" y1="415" x2="201.25" y2="418.2" stroke="#222" stroke-width="1.5"/>
<line x1="201.25" y1="432.8" x2="201.25" y2="436" stroke="#222" stroke-width="1.5"/>
<line x1="199.65" y1="415" x2="202.85" y2="415" stroke="#555" stroke-width="0.5"/>
<line x1="199.65" y1="436" x2="202.85" y2="436" stroke="#555" stroke-width="0.5"/>
<line x1="536.75" y1="415" x2="536.75" y2="436" stroke="#666" stroke-width="0.5"/>
<line x1="536.75" y1="415" x2="536.75" y2="418.2" stroke="#222" stroke-width="1.5"/>
<line x1="536.75" y1="432.8" x2="536.75" y2="436" stroke="#222" stroke-width="1.5"/>
<line x1="535.15" y1="415" x2="538.35" y2="415" stroke="#555" stroke-width="0.5"/>
<line x1="535.15" y1="436" x2="538.35" y2="436" stroke="#555" stroke-width="0.5"/>
<line x1="116" y1="513.25" x2="230" y2="513.25" stroke="#666" stroke-width="0.5"/>
<line x1="116" y1="513.25" x2="119.2" y2="513.25" stroke="#222" stroke-width="1.5"/>
<line x1="226.8" y1="513.25" x2="230" y2="513.25" stroke="#222" stroke-width="1.5"/>
<line x1="116" y1="511.65" x2="116" y2="514.85" stroke="#555" stroke-width="0.5"/>
<line x1="230" y1="511.65" x2="230" y2="514.85" stroke="#555" stroke-width="0.5"/>
<line x1="622" y1="513.25" x2="508" y2="513.25" stroke="#666" stroke-width="0.5"/>
<line x1="508" y1="513.25" x2="511.2" y2="513.25" stroke="#222" stroke-width="1.5"/>
<line x1="618.8" y1="513.25" x2="622" y2="513.25" stroke="#222" stroke-width="1.5"/>
<line x1="508" y1="511.65" x2="508" y2="514.85" stroke="#555" stroke-width="0.5"/>
<line x1="622" y1="511.65" x2="622" y2="514.85" stroke="#555" stroke-width="0.5"/>
<line x1="235" y1="126.25" x2="366" y2="126.25" stroke="#666" stroke-width="0.5"/>
<line x1="235" y1="126.25" x2="238.2" y2="126.25" stroke="#222" stroke-width="1.5"/>
<line x1="362.8" y1="126.25" x2="366" y2="126.25" stroke="#222" stroke-width="1.5"/>
<line x1="235" y1="124.65" x2="235" y2="127.85" stroke="#555" stroke-width="0.5"/>
<line x1="366" y1="124.65" x2="366" y2="127.85" stroke="#555" stroke-width="0.5"/>
<line x1="503" y1="126.25" x2="372" y2="126.25" stroke="#666" stroke-width="0.5"/>
<line x1="372" y1="126.25" x2="375.2" y2="126.25" stroke="#222" stroke-width="1.5"/>
<line x1="499.8" y1="126.25" x2="503" y2="126.25" stroke="#222" stroke-width="1.5"/>
<line x1="372" y1="124.65" x2="372" y2="127.85" stroke="#555" stroke-width="0.5"/>
<line x1="503" y1="124.65" x2="503" y2="127.85" stroke="#555" stroke-width="0.5"/>
<line x1="256" y1="126" x2="256" y2="190" stroke="#666" stroke-width="0.5"/>
<line x1="256" y1="126" x2="256" y2="129.2" stroke="#222" stroke-width="1.5"/>
<line x1="256" y1="186.8" x2="256" y2="190" stroke="#222" stroke-width="1.5"/>
<line x1="254.4" y1="126" x2="257.6" y2="126" stroke="#555" stroke-width="0.5"/>
<line x1="254.4" y1="190" x2="257.6" y2="190" stroke="#555" stroke-width="0.5"/>
<line x1="482" y1="126" x2="482" y2="190" stroke="#666" stroke-width="0.5"/>
<line x1="482" y1="126" x2="482" y2="129.2" stroke="#222" stroke-width="1.5"/>
<line x1="482" y1="186.8" x2="482" y2="190" stroke="#222" stroke-width="1.5"/>
<line x1="480.4" y1="126" x2="483.6" y2="126" stroke="#555" stroke-width="0.5"/>
<line x1="480.4" y1="190" x2="483.6" y2="190" stroke="#555" stroke-width="0.5"/>
<line x1="305" y1="118" x2="305" y2="226" stroke="#666" stroke-width="0.5"/>
<line x1="305" y1="118" x2="305" y2="121.2" stroke="#222" stroke-width="1.5"/>
<line x1="305" y1="222.8" x2="305" y2="226" stroke="#222" stroke-width="1.5"/>
<line x1="303.4" y1="118" x2="306.6" y2="118" stroke="#555" stroke-width="0.5"/>
<line x1="303.4" y1="226" x2="306.6" y2="226" stroke="#555" stroke-width="0.5"/>
<line x1="433" y1="118" x2="433" y2="226" stroke="#666" stroke-width="0.5"/>
<line x1="433" y1="118" x2="433" y2="121.2" stroke="#222" stroke-width="1.5"/>
<line x1="433" y1="222.8" x2="433" y2="226" stroke="#222" stroke-width="1.5"/>
<line x1="431.4" y1="118" x2="434.6" y2="118" stroke="#555" stroke-width="0.5"/>
<line x1="431.4" y1="226" x2="434.6" y2="226" stroke="#555" stroke-width="0.5"/>
<line x1="255" y1="418" x2="255" y2="480" stroke="#666" stroke-width="0.5"/>
<line x1="255" y1="418" x2="255" y2="421.2" stroke="#222" stroke-width="1.5"/>
<line x1="255" y1="476.8" x2="255" y2="480" stroke="#222" stroke-width="1.5"/>
<line x1="253.4" y1="418" x2="256.6" y2="418" stroke="#555" stroke-width="0.5"/>
<line x1="253.4" y1="480" x2="256.6" y2="480" stroke="#555" stroke-width="0.5"/>
<line x1="483" y1="418" x2="483" y2="480" stroke="#666" stroke-width="0.5"/>
<line x1="483" y1="418" x2="483" y2="421.2" stroke="#222" stroke-width="1.5"/>
<line x1="483" y1="476.8" x2="483" y2="480" stroke="#222" stroke-width="1.5"/>
<line x1="481.4" y1="418" x2="484.6" y2="418" stroke="#555" stroke-width="0.5"/>
<line x1="481.4" y1="480" x2="484.6" y2="480" stroke="#555" stroke-width="0.5"/>
<line x1="308.75" y1="383" x2="308.75" y2="480" stroke="#666" stroke-width="0.5"/>
<line x1="308.75" y1="383" x2="308.75" y2="386.2" stroke="#222" stroke-width="1.5"/>
<line x1="308.75" y1="476.8" x2="308.75" y2="480" stroke="#222" stroke-width="1.5"/>
<line x1="307.15" y1="383" x2="310.35" y2="383" stroke="#555" stroke-width="0.5"/>
<line x1="307.15" y1="480" x2="310.35" y2="480" stroke="#555" stroke-width="0.5"/>
<line x1="429.25" y1="383" x2="429.25" y2="480" stroke="#666" stroke-width="0.5"/>
<line x1="429.25" y1="383" x2="429.25" y2="386.2" stroke="#222" stroke-width="1.5"/>
<line x1="429.25" y1="476.8" x2="429.25" y2="480" stroke="#222" stroke-width="1.5"/>
<line x1="427.65" y1="383" x2="430.85" y2="383" stroke="#555" stroke-width="0.5"/>
<line x1="427.65" y1="480" x2="430.85" y2="480" stroke="#555" stroke-width="0.5"/>
<line x1="235" y1="471.25" x2="366" y2="471.25" stroke="#666" stroke-width="0.5"/>
<line x1="235" y1="471.25" x2="238.2" y2="471.25" stroke="#222" stroke-width="1.5"/>
<line x1="362.8" y1="471.25" x2="366" y2="471.25" stroke="#222" stroke-width="1.5"/>
<line x1="235" y1="469.65" x2="235" y2="472.85" stroke="#555" stroke-width="0.5"/>
<line x1="366" y1="469.65" x2="366" y2="472.85" stroke="#555" stroke-width="0.5"/>
<line x1="503" y1="471.25" x2="372" y2="471.25" stroke="#666" stroke-width="0.5"/>
<line x1="372" y1="471.25" x2="375.2" y2="471.25" stroke="#222" stroke-width="1.5"/>
<line x1="499.8" y1="471.25" x2="503" y2="471.25" stroke="#222" stroke-width="1.5"/>
<line x1="372" y1="469.65" x2="372" y2="472.85" stroke="#555" stroke-width="0.5"/>
<line x1="503" y1="469.65" x2="503" y2="472.85" stroke="#555" stroke-width="0.5"/>
<line x1="635.4" y1="566" x2="635.4" y2="614" stroke="#666" stroke-width="0.5"/>
<line x1="635.4" y1="566" x2="635.4" y2="569.2" stroke="#222" stroke-width="1.5"/>
<line x1="635.4" y1="610.8" x2="635.4" y2="614" stroke="#222" stroke-width="1.5"/>
<line x1="633.8" y1="566" x2="637" y2="566" stroke="#555" stroke-width="0.5"/>
<line x1="633.8" y1="614" x2="637" y2="614" stroke="#555" stroke-width="0.5"/>
<line x1="437" y1="73" x2="437" y2="113" stroke="#666" stroke-width="0.5"/>
<line x1="437" y1="73" x2="437" y2="76.2" stroke="#222" stroke-width="1.5"/>
<line x1="437" y1="109.8" x2="437" y2="113" stroke="#222" stroke-width="1.5"/>
<line x1="435.4" y1="73" x2="438.6" y2="73" stroke="#555" stroke-width="0.5"/>
<line x1="435.4" y1="113" x2="438.6" y2="113" stroke="#555" stroke-width="0.5"/>
<line x1="380" y1="484.5" x2="380" y2="524.5" stroke="#666" stroke-width="0.5"/>
<line x1="380" y1="484.5" x2="380" y2="487.7" stroke="#222" stroke-width="1.5"/>
<line x1="380" y1="521.3" x2="380" y2="524.5" stroke="#222" stroke-width="1.5"/>
<line x1="378.4" y1="484.5" x2="381.6" y2="484.5" stroke="#555" stroke-width="0.5"/>
<line x1="378.4" y1="524.5" x2="381.6" y2="524.5" stroke="#555" stroke-width="0.5"/>
<line x1="504" y1="618.5" x2="625" y2="618.5" stroke="#666" stroke-width="0.5"/>
<line x1="504" y1="618.5" x2="507.2" y2="618.5" stroke="#222" stroke-width="1.5"/>
<line x1="621.8" y1="618.5" x2="625" y2="618.5" stroke="#222" stroke-width="1.5"/>
<line x1="504" y1="616.9" x2="504" y2="620.1" stroke="#555" stroke-width="0.5"/>
<line x1="625" y1="616.9" x2="625" y2="620.1" stroke="#555" stroke-width="0.5"/>
<line x1="235" y1="230" x2="296" y2="326" stroke="#666" stroke-width="0.9" stroke-dasharray="3,2"/>
<line x1="332.5" y1="230" x2="235" y2="326" stroke="#666" stroke-width="0.9" stroke-dasharray="3,2"/>
<rect x="95" y="198" width="18" height="4.5" fill="#eeeeee" stroke="#2a2a2a" stroke-width="0.9"/>
<rect x="332.5" y="226" width="5" height="120.25" fill="#eeeeee" stroke="#2a2a2a" stroke-width="0.9"/>
<rect x="229.5" y="341.25" width="108" height="5" fill="#eeeeee" stroke="#2a2a2a" stroke-width="0.9"/>
<rect x="235" y="327.5" width="62" height="2.5" fill="#eeeeee" stroke="#2a2a2a" stroke-width="0.9"/>
<line x1="235" y1="330" x2="297" y2="341.25" stroke="#999" stroke-width="0.6" stroke-dasharray="2,2"/>
<line x1="235" y1="341.25" x2="297" y2="330" stroke="#999" stroke-width="0.6" stroke-dasharray="2,2"/>
<rect x="297" y="301.25" width="40.5" height="45" fill="none" stroke="#2a2a2a" stroke-width="0.8"/>
<rect x="301" y="305" width="32" height="37" fill="none" stroke="#2a2a2a" stroke-width="0.7"/>
<rect x="306" y="306.5" width="26.5" height="28.5" fill="#fff" stroke="#333" stroke-width="0.8"/>
<rect x="309" y="309" width="18" height="23" fill="none" stroke="#888" stroke-width="0.5"/>
<rect x="326" y="318" width="3" height="16" fill="#222"/>
<line x1="337.5" y1="249" x2="395.5" y2="249" stroke="#222" stroke-width="1.0"/>
<rect x="354" y="247" width="17.5" height="4" fill="#fff" stroke="#2a2a2a" stroke-width="0.7"/>
<rect x="338" y="233.75" width="2" height="15.25" fill="#000"/>
<rect x="371" y="233" width="2" height="16" fill="#000"/>
<path d="M338 234 A15 15 0 0 1 353 249" fill="none" stroke="#555" stroke-width="0.6" stroke-dasharray="1.5,1.2"/>
<path d="M372 235 A14 14 0 0 1 386 249" fill="none" stroke="#555" stroke-width="0.6" stroke-dasharray="1.5,1.2"/>
<polygon points="217.25,240.7 225.25,240.7 221.25,234.3" fill="#000"/>
<polygon points="216.7,306.5 216.7,314.5 210.3,310.5" fill="#000"/>
<polygon points="347.25,259.45 355.25,259.45 351.25,253.05" fill="#000"/>
<polygon points="376.5,259.45 384.5,259.45 380.5,253.05" fill="#000"/>
<polygon points="513.5,236.95 521.5,236.95 517.5,230.55" fill="#000"/>
<polygon points="520.8,306.5 520.8,314.5 527.2,310.5" fill="#000"/>
<polygon points="512.5,360.55 520.5,360.55 516.5,366.95" fill="#000"/>
<polygon points="377.25,360.55 385.25,360.55 381.25,366.95" fill="#000"/>
<polygon points="217.25,360.55 225.25,360.55 221.25,366.95" fill="#000"/>
<polygon points="356.75,360.55 364.75,360.55 360.75,366.95" fill="#000"/>
<rect x="395.5" y="225" width="112.5" height="4.5" fill="#eeeeee" stroke="#2a2a2a" stroke-width="0.9"/>
<rect x="395.5" y="225" width="3.25" height="121" fill="#eeeeee" stroke="#2a2a2a" stroke-width="0.9"/>
<rect x="503.75" y="225" width="4.25" height="121" fill="#eeeeee" stroke="#2a2a2a" stroke-width="0.9"/>
<rect x="395.5" y="341.25" width="112.5" height="4.25" fill="#eeeeee" stroke="#2a2a2a" stroke-width="0.9"/>
<line x1="398.75" y1="229.5" x2="503.75" y2="292.5" stroke="#666" stroke-width="0.9" stroke-dasharray="3,2"/>
<line x1="503.75" y1="229.5" x2="398.75" y2="292.5" stroke="#666" stroke-width="0.9" stroke-dasharray="3,2"/>
<line x1="398.75" y1="292.5" x2="503.75" y2="292.5" stroke="#333" stroke-width="0.8"/>
<rect x="398.75" y="292.7" width="105" height="4.3" fill="#fff" stroke="#2a2a2a" stroke-width="0.6"/>
<rect x="416.3" y="297" width="59.3" height="44" fill="none" stroke="#444" stroke-width="0.7"/>
<line x1="421.4" y1="297.5" x2="421.4" y2="340.5" stroke="#999" stroke-width="0.7"/>
<line x1="426.45" y1="297.5" x2="426.45" y2="340.5" stroke="#999" stroke-width="0.7"/>
<line x1="431.5" y1="297.5" x2="431.5" y2="340.5" stroke="#999" stroke-width="0.7"/>
<line x1="436.55" y1="297.5" x2="436.55" y2="340.5" stroke="#999" stroke-width="0.7"/>
<line x1="441.6" y1="297.5" x2="441.6" y2="340.5" stroke="#999" stroke-width="0.7"/>
<line x1="446.65" y1="297.5" x2="446.65" y2="340.5" stroke="#999" stroke-width="0.7"/>
<line x1="451.7" y1="297.5" x2="451.7" y2="340.5" stroke="#999" stroke-width="0.7"/>
<line x1="456.75" y1="297.5" x2="456.75" y2="340.5" stroke="#999" stroke-width="0.7"/>
<line x1="461.8" y1="297.5" x2="461.8" y2="340.5" stroke="#999" stroke-width="0.7"/>
<line x1="466.85" y1="297.5" x2="466.85" y2="340.5" stroke="#999" stroke-width="0.7"/>
<line x1="416.3" y1="319.8" x2="455" y2="319.8" stroke="#aaa" stroke-width="0.8"/>
<rect x="417" y="308" width="47.6" height="22.8" fill="none" stroke="#444" stroke-width="1.2" stroke-dasharray="2.6,1.6"/>
<rect x="469.7" y="297" width="6.7" height="44" fill="#f0f0f0" stroke="#444" stroke-width="0.7"/>
<rect x="469.5" y="297" width="2" height="3" fill="#222"/>
<rect x="469.5" y="338" width="2" height="3" fill="#222"/>
<rect x="398.5" y="292.7" width="14.4" height="4.8" fill="#ccc" stroke="#333" stroke-width="0.7"/>
<rect x="426.4" y="341" width="12.8" height="6.5" fill="#fff" stroke="#333" stroke-width="0.7"/>
<rect x="496" y="341" width="11.8" height="6.5" fill="#fff" stroke="#333" stroke-width="0.7"/>
<rect x="480" y="296.25" width="23.75" height="45" fill="none" stroke="#444" stroke-width="0.7"/>
<line x1="480" y1="296.25" x2="503.75" y2="341.25" stroke="#888" stroke-width="0.6" stroke-dasharray="2,1.5"/>
<line x1="480" y1="341.25" x2="503.75" y2="296.25" stroke="#888" stroke-width="0.6" stroke-dasharray="2,1.5"/>
<rect x="364.5" y="273.75" width="31" height="72.5" fill="none" stroke="#2a2a2a" stroke-width="0.8"/>
<rect x="368.5" y="277.5" width="27" height="15" fill="none" stroke="#444" stroke-width="0.7"/>
<line x1="368.5" y1="277.5" x2="395.5" y2="292.5" stroke="#888" stroke-width="0.6" stroke-dasharray="2,1.5"/>
<line x1="368.5" y1="292.5" x2="395.5" y2="277.5" stroke="#888" stroke-width="0.6" stroke-dasharray="2,1.5"/>
<rect x="368.7" y="297" width="30.1" height="26.6" fill="none" stroke="#777" stroke-width="0.7"/>
<path d="M371 300V318H375V312H378V318H381V300M384 300V318H388V312H391V318H394V300" fill="none" stroke="#999" stroke-width="1.6"/>
<rect x="369" y="325" width="2" height="20" fill="#000"/>
<rect x="337.6" y="303" width="7.4" height="27" fill="#d8d8d8"/>
<path d="M370 328 A17 17 0 0 1 387 345" fill="none" stroke="#555" stroke-width="0.6" stroke-dasharray="1.5,1.2"/>
<line x1="364.5" y1="251" x2="364.5" y2="273.75" stroke="#444" stroke-width="0.6"/>
<text x="337.5" y="328.3" font-size="38.5" textLength="16" lengthAdjust="spacingAndGlyphs" fill="#b0b0b0" fill-opacity="0.85" font-family="Liberation Sans, sans-serif">K</text>
<text x="384" y="328.3" font-size="38.5" textLength="21" lengthAdjust="spacingAndGlyphs" fill="#b0b0b0" fill-opacity="0.85" font-family="Liberation Sans, sans-serif">D</text>
<text x="408.5" y="328.3" font-size="38.5" textLength="4" lengthAdjust="spacingAndGlyphs" fill="#b0b0b0" fill-opacity="0.85" font-family="Liberation Sans, sans-serif">I</text>
<text x="418" y="328.3" font-size="38.5" textLength="16" lengthAdjust="spacingAndGlyphs" fill="#b0b0b0" fill-opacity="0.85" font-family="Liberation Sans, sans-serif">S</text>
<path d="M360 324 L371 300 L381 324" fill="none" stroke="#e0d3a0" stroke-width="1"/>
<text x="355" y="347" font-size="11.5" textLength="5.6" lengthAdjust="spacingAndGlyphs" fill="#c4c4c4" font-family="Liberation Sans, sans-serif">E</text>
<text x="363.9" y="347" font-size="11.5" textLength="5.6" lengthAdjust="spacingAndGlyphs" fill="#c4c4c4" font-family="Liberation Sans, sans-serif">S</text>
<text x="372.8" y="347" font-size="11.5" textLength="5.6" lengthAdjust="spacingAndGlyphs" fill="#c4c4c4" font-family="Liberation Sans, sans-serif">T</text>
<text x="381.7" y="347" font-size="11.5" textLength="5.6" lengthAdjust="spacingAndGlyphs" fill="#c4c4c4" font-family="Liberation Sans, sans-serif">A</text>
<text x="390.6" y="347" font-size="11.5" textLength="5.6" lengthAdjust="spacingAndGlyphs" fill="#c4c4c4" font-family="Liberation Sans, sans-serif">T</text>
<text x="399.5" y="347" font-size="11.5" textLength="5.6" lengthAdjust="spacingAndGlyphs" fill="#c4c4c4" font-family="Liberation Sans, sans-serif">E</text>
<text x="408.4" y="347" font-size="11.5" textLength="5.6" lengthAdjust="spacingAndGlyphs" fill="#c4c4c4" font-family="Liberation Sans, sans-serif">S</text>
<g font-family="Liberation Sans, sans-serif">
<text x="177.5" y="164.14" font-size="12.6" text-anchor="middle" fill="#1a1a1a" stroke="#1a1a1a" stroke-width="0.35">101/201</text>
<text x="166.5" y="283.54" font-size="12.6" text-anchor="middle" fill="#1a1a1a" stroke="#1a1a1a" stroke-width="0.35">102/202</text>
<text x="338.3" y="194.54" font-size="12.6" text-anchor="middle" fill="#1a1a1a" stroke="#1a1a1a" stroke-width="0.35">110/210</text>
<text x="206.75" y="484.34" font-size="12.6" text-anchor="middle" fill="#1a1a1a" stroke="#1a1a1a" stroke-width="0.35">103/203</text>
<text x="338.3" y="409.64" font-size="12.6" text-anchor="middle" fill="#1a1a1a" stroke="#1a1a1a" stroke-width="0.35">104/204</text>
<text x="405.7" y="198.24" font-size="12.6" text-anchor="middle" fill="#1a1a1a" stroke="#1a1a1a" stroke-width="0.35">109/209</text>
<text x="401.9" y="409.74" font-size="12.6" text-anchor="middle" fill="#1a1a1a" stroke="#1a1a1a" stroke-width="0.35">105/205</text>
<text x="557.5" y="179.64" font-size="12.6" text-anchor="middle" fill="#1a1a1a" stroke="#1a1a1a" stroke-width="0.35">108/208</text>
<text x="572.9" y="289.54" font-size="12.6" text-anchor="middle" fill="#1a1a1a" stroke="#1a1a1a" stroke-width="0.35">107/207</text>
<text x="547.2" y="542.04" font-size="12.6" text-anchor="middle" fill="#1a1a1a" stroke="#1a1a1a" stroke-width="0.35">106/206</text>
<rect x="215.2" y="54.2" width="14.6" height="5.6" fill="#fff"/>
<text x="222.5" y="59.34" font-size="6.5" text-anchor="middle" fill="#2e2e2e" stroke="#2e2e2e" stroke-width="0.15">3.00</text>
<rect x="200.2" y="78.95" width="14.6" height="5.6" fill="#fff"/>
<text x="207.5" y="84.09" font-size="6.5" text-anchor="middle" fill="#2e2e2e" stroke="#2e2e2e" stroke-width="0.15">3.70</text>
<rect x="508.7" y="54.2" width="14.6" height="5.6" fill="#fff"/>
<text x="516" y="59.34" font-size="6.5" text-anchor="middle" fill="#2e2e2e" stroke="#2e2e2e" stroke-width="0.15">3.00</text>
<rect x="599.95" y="78.95" width="14.6" height="5.6" fill="#fff"/>
<text x="607.25" y="84.09" font-size="6.5" text-anchor="middle" fill="#2e2e2e" stroke="#2e2e2e" stroke-width="0.15">3.70</text>
<rect x="165.6" y="129.9" width="14.6" height="5.6" fill="#fff"/>
<text x="172.9" y="135.04" font-size="6.5" text-anchor="middle" fill="#2e2e2e" stroke="#2e2e2e" stroke-width="0.15">6.50</text>
<rect x="557.7" y="121.7" width="14.6" height="5.6" fill="#fff"/>
<text x="565" y="126.84" font-size="6.5" text-anchor="middle" fill="#2e2e2e" stroke="#2e2e2e" stroke-width="0.15">6.50</text>
<rect x="28.7" y="158.2" width="14.6" height="5.6" fill="#fff"/>
<text x="36" y="163.34" font-size="6.5" text-anchor="middle" fill="#2e2e2e" stroke="#2e2e2e" stroke-width="0.15">4.75</text>
<rect x="682.7" y="158.2" width="14.6" height="5.6" fill="#fff"/>
<text x="690" y="163.34" font-size="6.5" text-anchor="middle" fill="#2e2e2e" stroke="#2e2e2e" stroke-width="0.15">4.75</text>
<rect x="72.7" y="207.2" width="14.6" height="5.6" fill="#fff"/>
<text x="80" y="212.34" font-size="6.5" text-anchor="middle" fill="#2e2e2e" stroke="#2e2e2e" stroke-width="0.15">3.65</text>
<rect x="125.2" y="154.7" width="14.6" height="5.6" fill="#fff"/>
<text x="132.5" y="159.84" font-size="6.5" text-anchor="middle" fill="#2e2e2e" stroke="#2e2e2e" stroke-width="0.15">4.65</text>
<rect x="600.2" y="154.7" width="14.6" height="5.6" fill="#fff"/>
<text x="607.5" y="159.84" font-size="6.5" text-anchor="middle" fill="#2e2e2e" stroke="#2e2e2e" stroke-width="0.15">4.65</text>
<rect x="152.7" y="207.95" width="14.6" height="5.6" fill="#fff"/>
<text x="160" y="213.09" font-size="6.5" text-anchor="middle" fill="#2e2e2e" stroke="#2e2e2e" stroke-width="0.15">4.95</text>
<rect x="125.2" y="248.2" width="14.6" height="5.6" fill="#fff"/>
<text x="132.5" y="253.34" font-size="6.5" text-anchor="middle" fill="#2e2e2e" stroke="#2e2e2e" stroke-width="0.15">5.55</text>
<rect x="600.2" y="249.5" width="14.6" height="5.6" fill="#fff"/>
<text x="607.5" y="254.64" font-size="6.5" text-anchor="middle" fill="#2e2e2e" stroke="#2e2e2e" stroke-width="0.15">5.64</text>
<rect x="56.7" y="263.7" width="14.6" height="5.6" fill="#fff"/>
<text x="64" y="268.84" font-size="6.5" text-anchor="middle" fill="#2e2e2e" stroke="#2e2e2e" stroke-width="0.15">4.18</text>
<rect x="674.7" y="263.7" width="14.6" height="5.6" fill="#fff"/>
<text x="682" y="268.84" font-size="6.5" text-anchor="middle" fill="#2e2e2e" stroke="#2e2e2e" stroke-width="0.15">4.18</text>
<rect x="83.2" y="311.2" width="14.6" height="5.6" fill="#fff"/>
<text x="90.5" y="316.34" font-size="6.5" text-anchor="middle" fill="#2e2e2e" stroke="#2e2e2e" stroke-width="0.15">2.40</text>
<rect x="639.7" y="314.7" width="14.6" height="5.6" fill="#fff"/>
<text x="647" y="319.84" font-size="6.5" text-anchor="middle" fill="#2e2e2e" stroke="#2e2e2e" stroke-width="0.15">2.40</text>
<rect x="151.45" y="332.7" width="14.6" height="5.6" fill="#fff"/>
<text x="158.75" y="337.84" font-size="6.5" text-anchor="middle" fill="#2e2e2e" stroke="#2e2e2e" stroke-width="0.15">3.75</text>
<rect x="599.7" y="333.45" width="14.6" height="5.6" fill="#fff"/>
<text x="607" y="338.59" font-size="6.5" text-anchor="middle" fill="#2e2e2e" stroke="#2e2e2e" stroke-width="0.15">3.65</text>
<rect x="136.45" y="350.2" width="14.6" height="5.6" fill="#fff"/>
<text x="143.75" y="355.34" font-size="6.5" text-anchor="middle" fill="#2e2e2e" stroke="#2e2e2e" stroke-width="0.15">3.07</text>
<rect x="586.45" y="349.2" width="14.6" height="5.6" fill="#fff"/>
<text x="593.75" y="354.34" font-size="6.5" text-anchor="middle" fill="#2e2e2e" stroke="#2e2e2e" stroke-width="0.15">3.10</text>
<rect x="137.7" y="386.7" width="14.6" height="5.6" fill="#fff"/>
<text x="145" y="391.84" font-size="6.5" text-anchor="middle" fill="#2e2e2e" stroke="#2e2e2e" stroke-width="0.15">3.25</text>
<rect x="585.7" y="386.7" width="14.6" height="5.6" fill="#fff"/>
<text x="593" y="391.84" font-size="6.5" text-anchor="middle" fill="#2e2e2e" stroke="#2e2e2e" stroke-width="0.15">3.25</text>
<rect x="183.2" y="386.7" width="14.6" height="5.6" fill="#fff"/>
<text x="190.5" y="391.84" font-size="6.5" text-anchor="middle" fill="#2e2e2e" stroke="#2e2e2e" stroke-width="0.15">1.75</text>
<rect x="540.2" y="386.7" width="14.6" height="5.6" fill="#fff"/>
<text x="547.5" y="391.84" font-size="6.5" text-anchor="middle" fill="#2e2e2e" stroke="#2e2e2e" stroke-width="0.15">1.75</text>
<rect x="212.2" y="386.7" width="14.6" height="5.6" fill="#fff"/>
<text x="219.5" y="391.84" font-size="6.5" text-anchor="middle" fill="#2e2e2e" stroke="#2e2e2e" stroke-width="0.15">1.25</text>
<rect x="511.2" y="386.7" width="14.6" height="5.6" fill="#fff"/>
<text x="518.5" y="391.84" font-size="6.5" text-anchor="middle" fill="#2e2e2e" stroke="#2e2e2e" stroke-width="0.15">1.25</text>
<rect x="151.45" y="401.7" width="14.6" height="5.6" fill="#fff"/>
<text x="158.75" y="406.84" font-size="6.5" text-anchor="middle" fill="#2e2e2e" stroke="#2e2e2e" stroke-width="0.15">3.65</text>
<rect x="598.95" y="401.7" width="14.6" height="5.6" fill="#fff"/>
<text x="606.25" y="406.84" font-size="6.5" text-anchor="middle" fill="#2e2e2e" stroke="#2e2e2e" stroke-width="0.15">3.65</text>
<rect x="193.95" y="422.95" width="14.6" height="5.6" fill="#fff"/>
<text x="201.25" y="428.09" font-size="6.5" text-anchor="middle" fill="#2e2e2e" stroke="#2e2e2e" stroke-width="0.15">1.25</text>
<rect x="529.7" y="422.95" width="14.6" height="5.6" fill="#fff"/>
<text x="537" y="428.09" font-size="6.5" text-anchor="middle" fill="#2e2e2e" stroke="#2e2e2e" stroke-width="0.15">1.25</text>
<rect x="151.95" y="467.7" width="14.6" height="5.6" fill="#fff"/>
<text x="159.25" y="472.84" font-size="6.5" text-anchor="middle" fill="#2e2e2e" stroke="#2e2e2e" stroke-width="0.15">3.65</text>
<rect x="598.7" y="468" width="14.6" height="5.6" fill="#fff"/>
<text x="606" y="473.14" font-size="6.5" text-anchor="middle" fill="#2e2e2e" stroke="#2e2e2e" stroke-width="0.15">3.65</text>
<rect x="165.7" y="510.45" width="14.6" height="5.6" fill="#fff"/>
<text x="173" y="515.59" font-size="6.5" text-anchor="middle" fill="#2e2e2e" stroke="#2e2e2e" stroke-width="0.15">6.45</text>
<rect x="557.3" y="510.4" width="14.6" height="5.6" fill="#fff"/>
<text x="564.6" y="515.54" font-size="6.5" text-anchor="middle" fill="#2e2e2e" stroke="#2e2e2e" stroke-width="0.15">6.45</text>
<rect x="151.95" y="530.45" width="14.6" height="5.6" fill="#fff"/>
<text x="159.25" y="535.59" font-size="6.5" text-anchor="middle" fill="#2e2e2e" stroke="#2e2e2e" stroke-width="0.15">3.30</text>
<rect x="598.7" y="530.4" width="14.6" height="5.6" fill="#fff"/>
<text x="606" y="535.54" font-size="6.5" text-anchor="middle" fill="#2e2e2e" stroke="#2e2e2e" stroke-width="0.15">3.30</text>
<rect x="628.1" y="588.6" width="14.6" height="5.6" fill="#fff"/>
<text x="635.4" y="593.74" font-size="6.5" text-anchor="middle" fill="#2e2e2e" stroke="#2e2e2e" stroke-width="0.15">2.70</text>
<rect x="557.3" y="615.7" width="14.6" height="5.6" fill="#fff"/>
<text x="564.6" y="620.84" font-size="6.5" text-anchor="middle" fill="#2e2e2e" stroke="#2e2e2e" stroke-width="0.15">6.95</text>
<rect x="258.95" y="123.45" width="14.6" height="5.6" fill="#fff"/>
<text x="266.25" y="128.59" font-size="6.5" text-anchor="middle" fill="#2e2e2e" stroke="#2e2e2e" stroke-width="0.15">3.55</text>
<rect x="464.45" y="123.7" width="14.6" height="5.6" fill="#fff"/>
<text x="471.75" y="128.84" font-size="6.5" text-anchor="middle" fill="#2e2e2e" stroke="#2e2e2e" stroke-width="0.15">3.55</text>
<rect x="325.2" y="123.45" width="14.6" height="5.6" fill="#fff"/>
<text x="332.5" y="128.59" font-size="6.5" text-anchor="middle" fill="#2e2e2e" stroke="#2e2e2e" stroke-width="0.15">3.85</text>
<rect x="397.7" y="123.45" width="14.6" height="5.6" fill="#fff"/>
<text x="405" y="128.59" font-size="6.5" text-anchor="middle" fill="#2e2e2e" stroke="#2e2e2e" stroke-width="0.15">3.85</text>
<rect x="247.7" y="151.7" width="14.6" height="5.6" fill="#fff"/>
<text x="255" y="156.84" font-size="6.5" text-anchor="middle" fill="#2e2e2e" stroke="#2e2e2e" stroke-width="0.15">4.05</text>
<rect x="475.7" y="151.7" width="14.6" height="5.6" fill="#fff"/>
<text x="483" y="156.84" font-size="6.5" text-anchor="middle" fill="#2e2e2e" stroke="#2e2e2e" stroke-width="0.15">4.05</text>
<rect x="297.2" y="163.45" width="14.6" height="5.6" fill="#fff"/>
<text x="304.5" y="168.59" font-size="6.5" text-anchor="middle" fill="#2e2e2e" stroke="#2e2e2e" stroke-width="0.15">6.05</text>
<rect x="426.2" y="163.45" width="14.6" height="5.6" fill="#fff"/>
<text x="433.5" y="168.59" font-size="6.5" text-anchor="middle" fill="#2e2e2e" stroke="#2e2e2e" stroke-width="0.15">6.05</text>
<rect x="301.45" y="423.45" width="14.6" height="5.6" fill="#fff"/>
<text x="308.75" y="428.59" font-size="6.5" text-anchor="middle" fill="#2e2e2e" stroke="#2e2e2e" stroke-width="0.15">6.10</text>
<rect x="421.45" y="423.45" width="14.6" height="5.6" fill="#fff"/>
<text x="428.75" y="428.59" font-size="6.5" text-anchor="middle" fill="#2e2e2e" stroke="#2e2e2e" stroke-width="0.15">6.10</text>
<rect x="247.7" y="440.45" width="14.6" height="5.6" fill="#fff"/>
<text x="255" y="445.59" font-size="6.5" text-anchor="middle" fill="#2e2e2e" stroke="#2e2e2e" stroke-width="0.15">4.10</text>
<rect x="475.7" y="440.45" width="14.6" height="5.6" fill="#fff"/>
<text x="483" y="445.59" font-size="6.5" text-anchor="middle" fill="#2e2e2e" stroke="#2e2e2e" stroke-width="0.15">4.10</text>
<rect x="258.95" y="468.45" width="14.6" height="5.6" fill="#fff"/>
<text x="266.25" y="473.59" font-size="6.5" text-anchor="middle" fill="#2e2e2e" stroke="#2e2e2e" stroke-width="0.15">3.55</text>
<rect x="464.45" y="468.45" width="14.6" height="5.6" fill="#fff"/>
<text x="471.75" y="473.59" font-size="6.5" text-anchor="middle" fill="#2e2e2e" stroke="#2e2e2e" stroke-width="0.15">3.55</text>
<rect x="325.2" y="468.95" width="14.6" height="5.6" fill="#fff"/>
<text x="332.5" y="474.09" font-size="6.5" text-anchor="middle" fill="#2e2e2e" stroke="#2e2e2e" stroke-width="0.15">3.85</text>
<rect x="397.7" y="468.95" width="14.6" height="5.6" fill="#fff"/>
<text x="405" y="474.09" font-size="6.5" text-anchor="middle" fill="#2e2e2e" stroke="#2e2e2e" stroke-width="0.15">3.85</text>
<text x="658.5" y="194.16" font-size="4.6" text-anchor="middle" fill="#2e2e2e" stroke="#2e2e2e" stroke-width="0.15">3.65</text>
<text x="143" y="66.16" font-size="4.6" text-anchor="middle" fill="#2e2e2e" stroke="#2e2e2e" stroke-width="0.15">1.4</text>
<text x="178" y="66.16" font-size="4.6" text-anchor="middle" fill="#2e2e2e" stroke="#2e2e2e" stroke-width="0.15">1.45</text>
<text x="110" y="66.16" font-size="4.6" text-anchor="middle" fill="#2e2e2e" stroke="#2e2e2e" stroke-width="0.15">3</text>
<text x="558.5" y="66.16" font-size="4.6" text-anchor="middle" fill="#2e2e2e" stroke="#2e2e2e" stroke-width="0.15">1.45</text>
<text x="594" y="66.16" font-size="4.6" text-anchor="middle" fill="#2e2e2e" stroke="#2e2e2e" stroke-width="0.15">1.4</text>
<text x="627" y="66.16" font-size="4.6" text-anchor="middle" fill="#2e2e2e" stroke="#2e2e2e" stroke-width="0.15">3</text>
<text x="255.5" y="390.41" font-size="4.6" text-anchor="middle" fill="#2e2e2e" stroke="#2e2e2e" stroke-width="0.15">1.90</text>
<text x="483" y="390.41" font-size="4.6" text-anchor="middle" fill="#2e2e2e" stroke="#2e2e2e" stroke-width="0.15">1.90</text>
<text x="305" y="356.3" font-size="6.8" textLength="42.5" lengthAdjust="spacingAndGlyphs" fill="#333">κοινοχρ.χωρος</text>
<text x="80" y="162.8" font-size="5.2" text-anchor="middle" fill="#555" >Καλ.Βεράντα</text>
<text x="89" y="272.8" font-size="5.2" text-anchor="middle" fill="#555" >Καλ.Βεράντα</text>
<text x="335" y="95.8" font-size="5.2" text-anchor="middle" fill="#555" >Καλ.Βεράντα</text>
<text x="406.5" y="95.8" font-size="5.2" text-anchor="middle" fill="#555" >Καλ.Βεράντα</text>
<text x="332.5" y="507.8" font-size="5.2" text-anchor="middle" fill="#555" >Καλ.Βεράντα</text>
<text x="410" y="506.8" font-size="5.2" text-anchor="middle" fill="#555" >Καλ.Βεράντα</text>
<text x="173" y="591.8" font-size="5.2" text-anchor="middle" fill="#555" >Καλ.Βεράντα</text>
<text x="565" y="591.8" font-size="5.2" text-anchor="middle" fill="#555" >Καλ.Βεράντα</text>
<text x="658" y="162.8" font-size="5.2" text-anchor="middle" fill="#555" >Καλ.Βεράντα</text>
<text x="650" y="270.55" font-size="5.2" text-anchor="middle" fill="#555" >Καλ.Βεράντα</text>
</g>
</svg>
</body></html>
